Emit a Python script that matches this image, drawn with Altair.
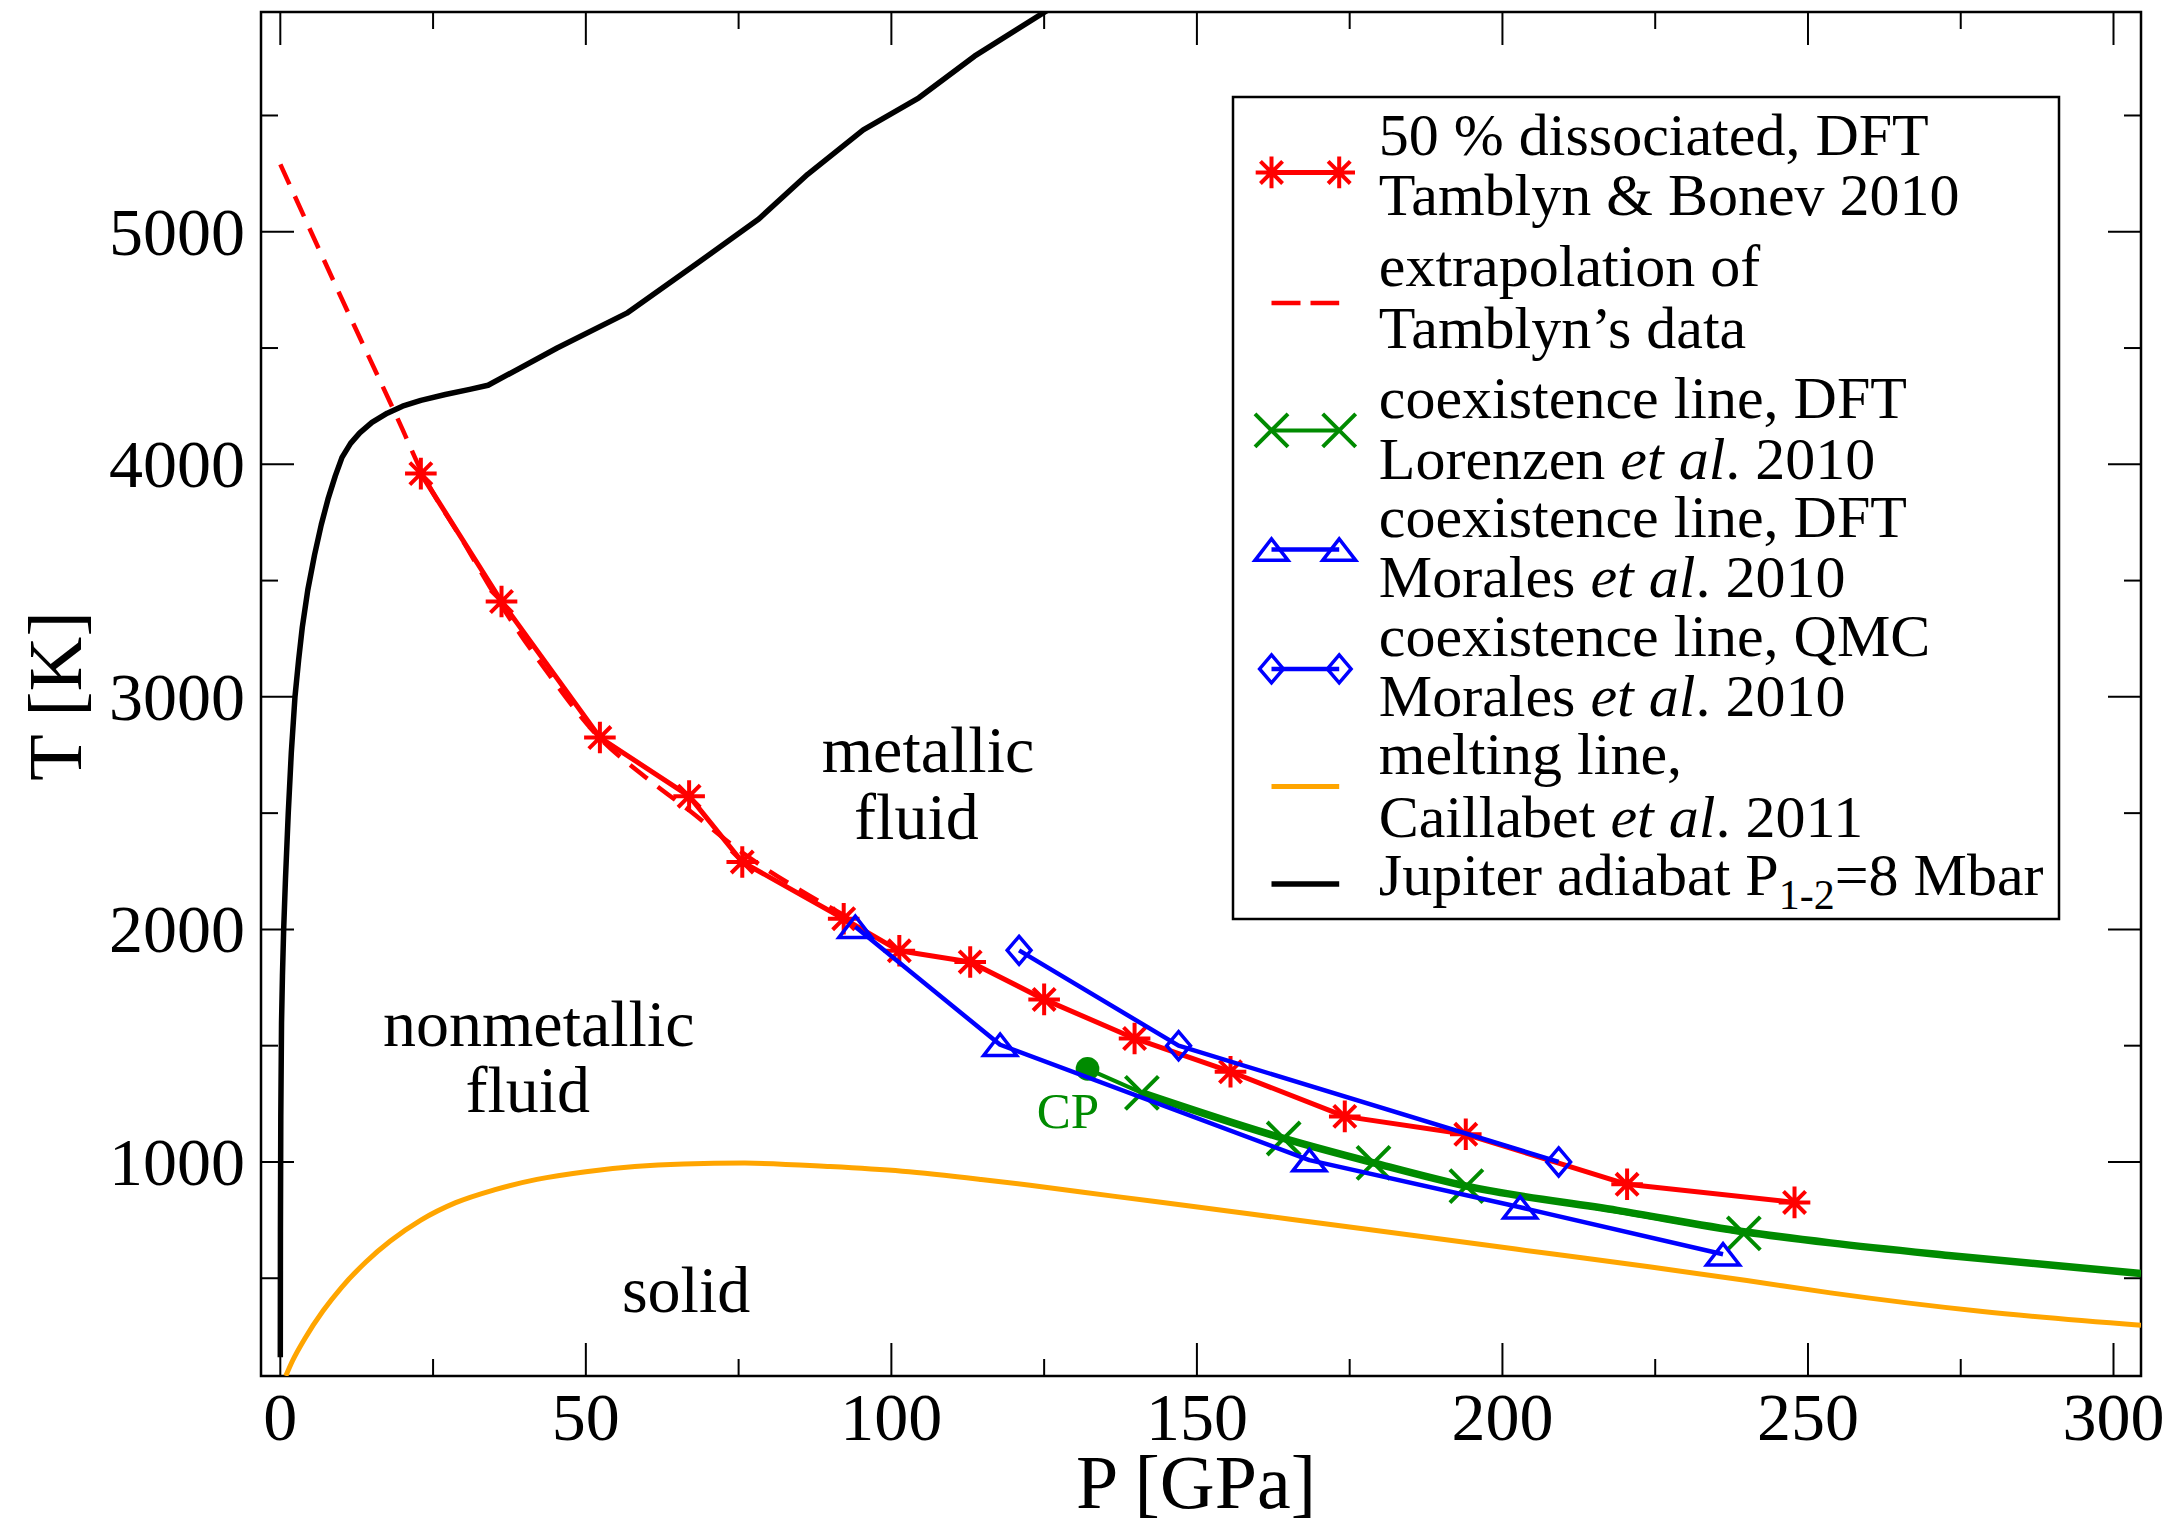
import altair as alt
import pandas as pd

# ---------------- data (P in GPa, T in K) ----------------
# 50 % dissociation line, DFT (Tamblyn & Bonev 2010)
tamblyn_P = [23.0, 36.2, 52.3, 66.9, 75.6, 92.2, 101.3, 112.9, 125.0, 139.8, 155.5, 174.2, 194.0, 220.4, 247.8]
tamblyn_T = [3960, 3410, 2825, 2573, 2290, 2046, 1908, 1860, 1699, 1531, 1388, 1196, 1119, 904, 826]

# extrapolation of the Tamblyn data
extrap_P = [0.0, 10.0, 20.0, 23.0, 30.0, 36.0, 44.0, 52.0, 60.0, 67.0, 75.6, 85.0, 93.0]
extrap_T = [5290, 4715, 4150, 3975, 3665, 3400, 3095, 2830, 2650, 2510, 2330, 2170, 2050]

# coexistence line, DFT (Lorenzen et al. 2010), starting at the critical point
lorenzen_P = [132.1, 141.0, 164.2, 178.9, 194.1, 239.5]
lorenzen_T = [1400, 1297, 1101, 996, 896, 693]
lorenzen_fit_P = [141.0, 164.2, 178.9, 194.1, 218.8, 239.5, 253.7, 273.0, 304.5]
lorenzen_fit_T = [1297, 1101, 996, 896, 792, 700, 652, 598, 520]
cp_P = [132.1]
cp_T = [1400]

# coexistence line, DFT (Morales et al. 2010)
morales_dft_P = [94.1, 117.8, 168.4, 202.9, 236.1]
morales_dft_T = [2011, 1504, 1008, 805, 603]

# coexistence line, QMC (Morales et al. 2010)
morales_qmc_P = [120.9, 147.0, 209.2]
morales_qmc_T = [1910, 1500, 1000]

# melting line (Caillabet et al. 2011)
melt_P = [0.9, 2.0, 4.0, 7.0, 10.0, 14.0, 18.0, 23.0, 28.7, 35.0, 42.0, 50.0, 58.0, 66.0, 76.0,
          90.0, 101.8, 114.7, 122.7, 136.6, 150.4, 158.5, 175.0, 191.4, 208.0, 224.3, 240.0,
          253.7, 278.2, 304.5]
melt_T = [80, 145, 240, 360, 460, 570, 660, 750, 825, 880, 925, 958, 980, 991, 995,
          980, 960, 925, 900, 852, 805, 777, 720, 663, 605, 548, 490,
          437, 358, 298]

# Jupiter adiabat, P_1-2 = 8 Mbar
adiabat_P = [0.0, 0.02, 0.08, 0.2, 0.35, 0.55, 0.85, 1.3, 1.8, 2.4, 3.0, 3.6, 4.5, 5.6, 6.7,
             7.8, 9.0, 10.1, 11.5, 13.0, 15.0, 17.5, 20.0, 23.0, 27.0, 31.0, 34.0,
             45.3, 56.7, 68.0, 78.3, 86.3, 95.4, 104.5, 113.6, 126.0]
adiabat_T = [160, 700, 1200, 1600, 1800, 2000, 2220, 2500, 2760, 3000, 3160, 3300, 3460, 3610, 3740,
             3850, 3950, 4030, 4090, 4135, 4180, 4220, 4250, 4275, 4300, 4322, 4340,
             4500, 4650, 4860, 5055, 5247, 5438, 5576, 5755, 5960]

# region labels
region_text = ["metallic", "fluid", "nonmetallic", "fluid", "solid"]
region_P = [106.0, 104.1, 42.3, 40.5, 66.4]
region_T = [2677, 2390, 1500, 1214, 354]

# axis ticks
x_major = [0, 50, 100, 150, 200, 250, 300]
x_minor = [25, 75, 125, 175, 225, 275]
y_major = [1000, 2000, 3000, 4000, 5000]
y_minor = [500, 1500, 2500, 3500, 4500, 5500]

# ---------------- styling ----------------
W, H = 1880, 1364
FONT = "Liberation Serif"
RED, GREEN, BLUE, ORANGE, BLACK = "#ff0000", "#008b00", "#0000ff", "#ffa500", "#000000"

ASTER = "M0,-1L0,1M-1,0L1,0M-0.7,-0.7L0.7,0.7M-0.7,0.7L0.7,-0.7"
XMARK = "M-1,-1L1,1M-1,1L1,-1"
TRI = "M0,-0.65L-1,0.65L1,0.65Z"
DIAM = "M0,-1L0.85,0L0,1L-0.85,0Z"

xs = alt.Scale(domain=[-3.16, 304.5], nice=False, zero=False)
ys = alt.Scale(domain=[79.6, 5945], nice=False, zero=False)


def frame(P, T):
    return pd.DataFrame({"P": P, "T": T, "i": list(range(len(P)))})


def xenc():
    return alt.X("P:Q", scale=xs, axis=None)


def yenc():
    return alt.Y("T:Q", scale=ys, axis=None)


def line(P, T, color, width, dash=None, smooth=False):
    kw = dict(color=color, strokeWidth=width, clip=True, strokeJoin="round")
    if dash:
        kw["strokeDash"] = dash
    if smooth:
        kw["interpolate"] = "monotone"
    return alt.Chart(frame(P, T)).mark_line(**kw).encode(x=xenc(), y=yenc(), order="i:Q")


def points(P, T, shape, color, size, sw=3.5):
    return alt.Chart(frame(P, T)).mark_point(
        shape=shape, color=color, size=size, filled=False, strokeWidth=sw, opacity=1, clip=True
    ).encode(x=xenc(), y=yenc())


# ---------------- frame decorations: tick labels, titles, inward ticks ----------------
xlab = alt.Chart(pd.DataFrame({"P": x_major, "lab": [str(v) for v in x_major]})).mark_text(
    font=FONT, fontSize=68, align="center", baseline="alphabetic", color=BLACK
).encode(x=xenc(), y=alt.value(H + 64), text="lab:N")

ylab = alt.Chart(pd.DataFrame({"T": y_major, "lab": [str(v) for v in y_major]})).mark_text(
    font=FONT, fontSize=68, align="right", baseline="alphabetic", dy=23, color=BLACK
).encode(y=yenc(), x=alt.value(-16), text="lab:N")

xtitle = alt.Chart(pd.DataFrame({"a": [0]})).mark_text(
    font=FONT, fontSize=76, align="center", baseline="alphabetic", color=BLACK
).encode(x=alt.value(935), y=alt.value(H + 132), text=alt.value("P [GPa]"))

ytitle = alt.Chart(pd.DataFrame({"a": [0]})).mark_text(
    font=FONT, fontSize=76, align="center", baseline="alphabetic", angle=270, color=BLACK
).encode(x=alt.value(-180), y=alt.value(684), text=alt.value("T [K]"))


def xticks(vals, length):
    d = pd.DataFrame({"P": vals})
    bottom = alt.Chart(d).mark_rule(color=BLACK, strokeWidth=2).encode(
        x=xenc(), y=alt.value(H), y2=alt.value(H - length))
    top = alt.Chart(d).mark_rule(color=BLACK, strokeWidth=2).encode(
        x=xenc(), y=alt.value(0), y2=alt.value(length))
    return [bottom, top]


def yticks(vals, length):
    d = pd.DataFrame({"T": vals})
    left = alt.Chart(d).mark_rule(color=BLACK, strokeWidth=2).encode(
        y=yenc(), x=alt.value(0), x2=alt.value(length))
    right = alt.Chart(d).mark_rule(color=BLACK, strokeWidth=2).encode(
        y=yenc(), x=alt.value(W), x2=alt.value(W - length))
    return [left, right]


tick_layers = xticks(x_major, 33) + xticks(x_minor, 17) + yticks(y_major, 33) + yticks(y_minor, 17)

# ---------------- data layers ----------------
data_layers = [
    line(adiabat_P, adiabat_T, BLACK, 5.5),
    line(melt_P, melt_T, ORANGE, 5, smooth=True),
    line(extrap_P, extrap_T, RED, 4.5, dash=[22, 13], smooth=True),
    line(tamblyn_P, tamblyn_T, RED, 5),
    points(tamblyn_P, tamblyn_T, ASTER, RED, 1000, 4),
    line(lorenzen_fit_P, lorenzen_fit_T, GREEN, 7.5, smooth=True),
    line(lorenzen_P, lorenzen_T, GREEN, 4),
    points(lorenzen_P[1:], lorenzen_T[1:], XMARK, GREEN, 1089, 4),
    alt.Chart(frame(cp_P, cp_T)).mark_point(shape="circle", filled=True, color=GREEN, size=560,
                                            opacity=1).encode(x=xenc(), y=yenc()),
    line(morales_dft_P, morales_dft_T, BLUE, 4.5),
    points(morales_dft_P, morales_dft_T, TRI, BLUE, 1089),
    line(morales_qmc_P, morales_qmc_T, BLUE, 4.5),
    points(morales_qmc_P, morales_qmc_T, DIAM, BLUE, 784),
]

regions = alt.Chart(pd.DataFrame({"txt": region_text, "P": region_P, "T": region_T})).mark_text(
    font=FONT, fontSize=66, align="center", baseline="alphabetic", color=BLACK
).encode(x=xenc(), y=yenc(), text="txt:N")

cp_label = alt.Chart(pd.DataFrame({"txt": ["CP"], "P": [128.9], "T": [1147]})).mark_text(
    font=FONT, fontSize=51, align="center", baseline="alphabetic", color=GREEN
).encode(x=xenc(), y=yenc(), text="txt:N")

# ---------------- legend ----------------
REG = {" ": 250, ".": 250, ",": 250, "-": 333, "=": 564, "L": 611, "o": 500, "r": 333, "e": 444,
       "n": 500, "z": 444, "M": 889, "a": 444, "l": 278, "s": 389, "C": 667, "i": 278, "b": 500,
       "t": 278, "J": 389, "u": 500, "p": 500, "d": 500, "P": 556}
ITA = {" ": 250, ".": 250, "e": 444, "t": 278, "a": 500, "l": 278}


def width(s, size, table):
    return sum(table.get(c, 500) for c in s) * size / 1000.0


LF = 60
SUB = 42
box = (972, 85, 1798, 907)
sym_x0, sym_x1 = 1010.5, 1078.2
tx = 1117.8
baselines = [143, 202.7, 274.2, 335.5, 405.9, 467.2, 525.2, 584.8, 644.4, 704, 762, 824.9, 882.9]
sym_y = [160.4, 291, 418.4, 537.6, 656.9, 774.5, 872]

plain_rows = []
italic_rows = []
sub_rows = []


def add(txt, x, y, rows):
    rows.append({"txt": txt, "px": x, "py": y})


add("50 % dissociated, DFT", tx, baselines[0], plain_rows)
add("Tamblyn & Bonev 2010", tx, baselines[1], plain_rows)
add("extrapolation of", tx, baselines[2], plain_rows)
add("Tamblyn\u2019s data", tx, baselines[3], plain_rows)
add("coexistence line, DFT", tx, baselines[4], plain_rows)
add("coexistence line, DFT", tx, baselines[6], plain_rows)
add("coexistence line, QMC", tx, baselines[8], plain_rows)
add("melting line,", tx, baselines[10], plain_rows)
for name, year, row in [("Lorenzen", ". 2010", 5), ("Morales", ". 2010", 7),
                        ("Morales", ". 2010", 9), ("Caillabet", ". 2011", 11)]:
    w1 = width(name + " ", LF, REG)
    w2 = width("et al", LF, ITA)
    add(name, tx, baselines[row], plain_rows)
    add("et al", tx + w1, baselines[row], italic_rows)
    add(year, tx + w1 + w2, baselines[row], plain_rows)
jw = width("Jupiter adiabat P", LF, REG)
add("Jupiter adiabat P", tx, baselines[12], plain_rows)
add("1-2", tx + jw, baselines[12] + 14, sub_rows)
add("=8 Mbar", tx + jw + width("1-2", SUB, REG), baselines[12], plain_rows)


def px_text(rows, size, style="normal"):
    return alt.Chart(pd.DataFrame(rows)).mark_text(
        font=FONT, fontSize=size, fontStyle=style, align="left", baseline="alphabetic", color=BLACK
    ).encode(x=alt.X("px:Q", scale=None, axis=None), y=alt.Y("py:Q", scale=None, axis=None),
             text="txt:N")


legend_box = alt.Chart(pd.DataFrame({"a": [0]})).mark_rect(
    fill="white", stroke=BLACK, strokeWidth=2.5
).encode(x=alt.value(box[0]), x2=alt.value(box[2]), y=alt.value(box[1]), y2=alt.value(box[3]))

legend_lines = []
line_specs = [(RED, 5, None), (RED, 4.5, [29, 10]), (GREEN, 4, None), (BLUE, 4.5, None),
              (BLUE, 4.5, None), (ORANGE, 5, None), (BLACK, 5.5, None)]
for (color, sw, dash), yy in zip(line_specs, sym_y):
    kw = dict(color=color, strokeWidth=sw)
    if dash:
        kw["strokeDash"] = dash
    legend_lines.append(alt.Chart(pd.DataFrame({"a": [0]})).mark_rule(**kw).encode(
        x=alt.value(sym_x0), x2=alt.value(sym_x1), y=alt.value(yy)))

legend_syms = []
for shape, color, size, sw, yy in [(ASTER, RED, 1000, 4, sym_y[0]), (XMARK, GREEN, 1089, 4, sym_y[2]),
                                   (TRI, BLUE, 1089, 3.5, sym_y[3]), (DIAM, BLUE, 784, 3.5, sym_y[4])]:
    d = pd.DataFrame({"px": [sym_x0, sym_x1], "py": [yy, yy]})
    legend_syms.append(alt.Chart(d).mark_point(
        shape=shape, color=color, size=size, filled=False, strokeWidth=sw, opacity=1
    ).encode(x=alt.X("px:Q", scale=None, axis=None), y=alt.Y("py:Q", scale=None, axis=None)))

legend_layers = [legend_box] + legend_lines + legend_syms + [
    px_text(plain_rows, LF), px_text(italic_rows, LF, "italic"), px_text(sub_rows, SUB)]

chart = alt.layer(
    *tick_layers, *data_layers, regions, cp_label, xlab, ylab, xtitle, ytitle, *legend_layers
).properties(
    width=W, height=H,
    padding={"left": 261, "top": 12, "right": 41, "bottom": 148},
    autosize=alt.AutoSizeParams(type="none"),
    background="white",
).configure_view(stroke=BLACK, strokeWidth=2.5)

chart.save("out.html", embed_options={"renderer": "svg", "actions": False})
